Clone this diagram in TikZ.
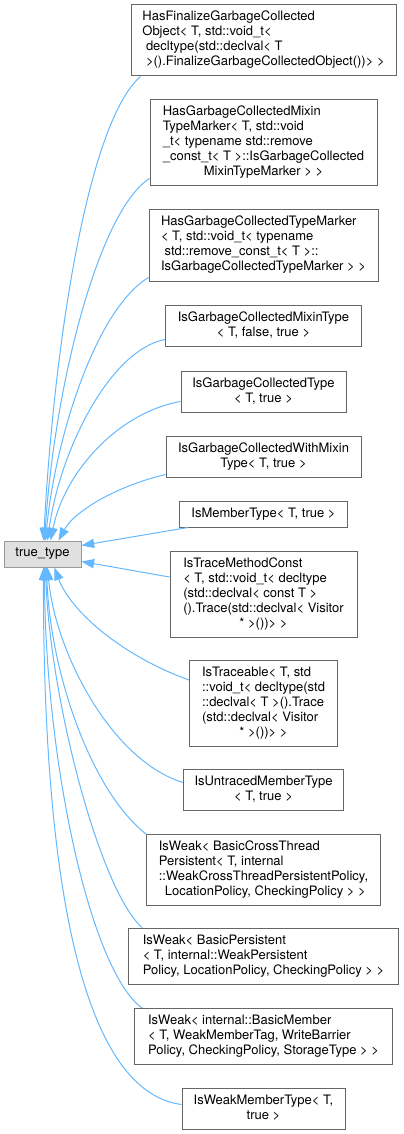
\documentclass[tikz,border=0pt]{standalone}
\usepackage{fontspec}
\setmainfont{TeX Gyre Heros}
\usetikzlibrary{arrows.meta,calc}
\definecolor{edgeblue}{HTML}{63B8FF}
\definecolor{boxborder}{HTML}{666666}
\definecolor{ttfill}{HTML}{E0E0E0}
\definecolor{ttborder}{HTML}{999999}
\newcommand\dxlines[2]{\begin{tabular}{@{}l@{}}#1\\\multicolumn{1}{@{}c@{}}{#2}\end{tabular}}
\begin{document}
\begin{tikzpicture}[x=0.75pt,y=-0.75pt,
  cls/.style 2 args={draw=boxborder, fill=white, line width=0.75pt, inner sep=0pt,
    minimum width=#1*0.75pt, minimum height=#2*0.75pt,
    font=\fontsize{9.75}{11.25}\selectfont},
  edge/.style={draw=edgeblue, line width=0.75pt, -{Triangle[length=9.5pt,width=7pt]}}]
\useasboundingbox (0,0) rectangle (403,1134);

\node[cls={77}{26}, fill=ttfill, draw=ttborder] (tt) at (42.5,554) {true\_type};

\node[cls={265}{71}] (b1) at (263.5,40.5) {\dxlines{HasFinalizeGarbageCollected\\Object< T, std::void\_t<\\\ decltype(std::declval< T}{\ >().FinalizeGarbageCollectedObject())> >}};
\node[cls={227}{86}] (b2) at (263.5,143) {\dxlines{HasGarbageCollectedMixin\\TypeMarker< T, std::void\\\_t< typename std::remove\\\_const\_t< T >::IsGarbageCollected}{MixinTypeMarker > >}};
\node[cls={229}{71}] (b3) at (263.5,245.5) {\dxlines{HasGarbageCollectedTypeMarker\\< T, std::void\_t< typename\\\ std::remove\_const\_t< T >::}{IsGarbageCollectedTypeMarker > >}};
\node[cls={196}{41}] (b4) at (263.5,325.5) {\dxlines{IsGarbageCollectedMixinType}{< T, false, true >}};
\node[cls={165}{41}] (b5) at (263.5,391.5) {\dxlines{IsGarbageCollectedType}{< T, true >}};
\node[cls={195}{41}] (b6) at (263.5,456.5) {\dxlines{IsGarbageCollectedWithMixin}{Type< T, true >}};
\node[cls={168}{26}] (b7) at (263.5,514) {IsMemberType< T, true >};
\node[cls={187}{86}] (b8) at (263.5,594) {\dxlines{IsTraceMethodConst\\< T, std::void\_t< decltype\\(std::declval< const T >\\().Trace(std::declval< Visitor}{* >())> >}};
\node[cls={148}{86}] (b9) at (263.5,703) {\dxlines{IsTraceable< T, std\\::void\_t< decltype(std\\::declval< T >().Trace\\(std::declval< Visitor}{* >())> >}};
\node[cls={160}{41}] (b10) at (263.5,789.5) {\dxlines{IsUntracedMemberType}{< T, true >}};
\node[cls={234}{71}] (b11) at (263.5,870) {\dxlines{IsWeak< BasicCrossThread\\Persistent< T, internal\\::WeakCrossThreadPersistentPolicy,}{\ LocationPolicy, CheckingPolicy > >}};
\node[cls={270}{56}] (b12) at (263.5,956) {\dxlines{IsWeak< BasicPersistent\\< T, internal::WeakPersistent}{Policy, LocationPolicy, CheckingPolicy > >}};
\node[cls={258}{56}] (b13) at (263.5,1036.5) {\dxlines{IsWeak< internal::BasicMember\\< T, WeakMemberTag, WriteBarrier}{Policy, CheckingPolicy, StorageType > >}};
\node[cls={163}{41}] (b14) at (263.5,1108.5) {\dxlines{IsWeakMemberType< T,}{true >}};

\draw[edge] ($(b1.south west)+(10,0)$) .. controls (90,120) and (55,330) .. ($(tt.north west)+(40,0)$);
\draw[edge] ($(b2.south west)+(0,-8)$) .. controls (100,210) and (55,380) .. ($(tt.north west)+(41,0)$);
\draw[edge] ($(b3.south west)+(0,-4)$) .. controls (95,310) and (55,440) .. ($(tt.north west)+(42,0)$);
\draw[edge] ($(b4.south west)+(0,-7)$) .. controls (110,350) and (60,450) .. ($(tt.north west)+(44,0)$);
\draw[edge] ($(b5.south west)+(0,-11)$) .. controls (120,412) and (65,470) .. ($(tt.north west)+(47,0)$);
\draw[edge] ($(b6.south west)+(0,-3)$) .. controls (120,485) and (75,510) .. ($(tt.north west)+(55,0)$);
\draw[edge] ($(b7.south west)+(9,0)$) -- ($(tt.north east)+(0,5)$);
\draw[edge] ($(b8.west)+(0,-17)$) -- ($(tt.south east)+(0,-6)$);
\draw[edge] ($(b9.west)+(0,-23)$) .. controls (120,655) and (70,610) .. ($(tt.south west)+(51,0)$);
\draw[edge] ($(b10.west)+(0,-7)$) .. controls (110,760) and (55,650) .. ($(tt.south west)+(44,0)$);
\draw[edge] (b11.north west) .. controls (90,790) and (50,670) .. ($(tt.south west)+(43,0)$);
\draw[edge] ($(b12.north west)+(14,0)$) .. controls (100,890) and (50,700) .. ($(tt.south west)+(42,0)$);
\draw[edge] ($(b13.north west)+(8,0)$) .. controls (90,970) and (45,760) .. ($(tt.south west)+(41,0)$);
\draw[edge] ($(b14.west)+(0,-4)$) .. controls (70,1090) and (43,830) .. ($(tt.south west)+(40,0)$);
\end{tikzpicture}
\end{document}
